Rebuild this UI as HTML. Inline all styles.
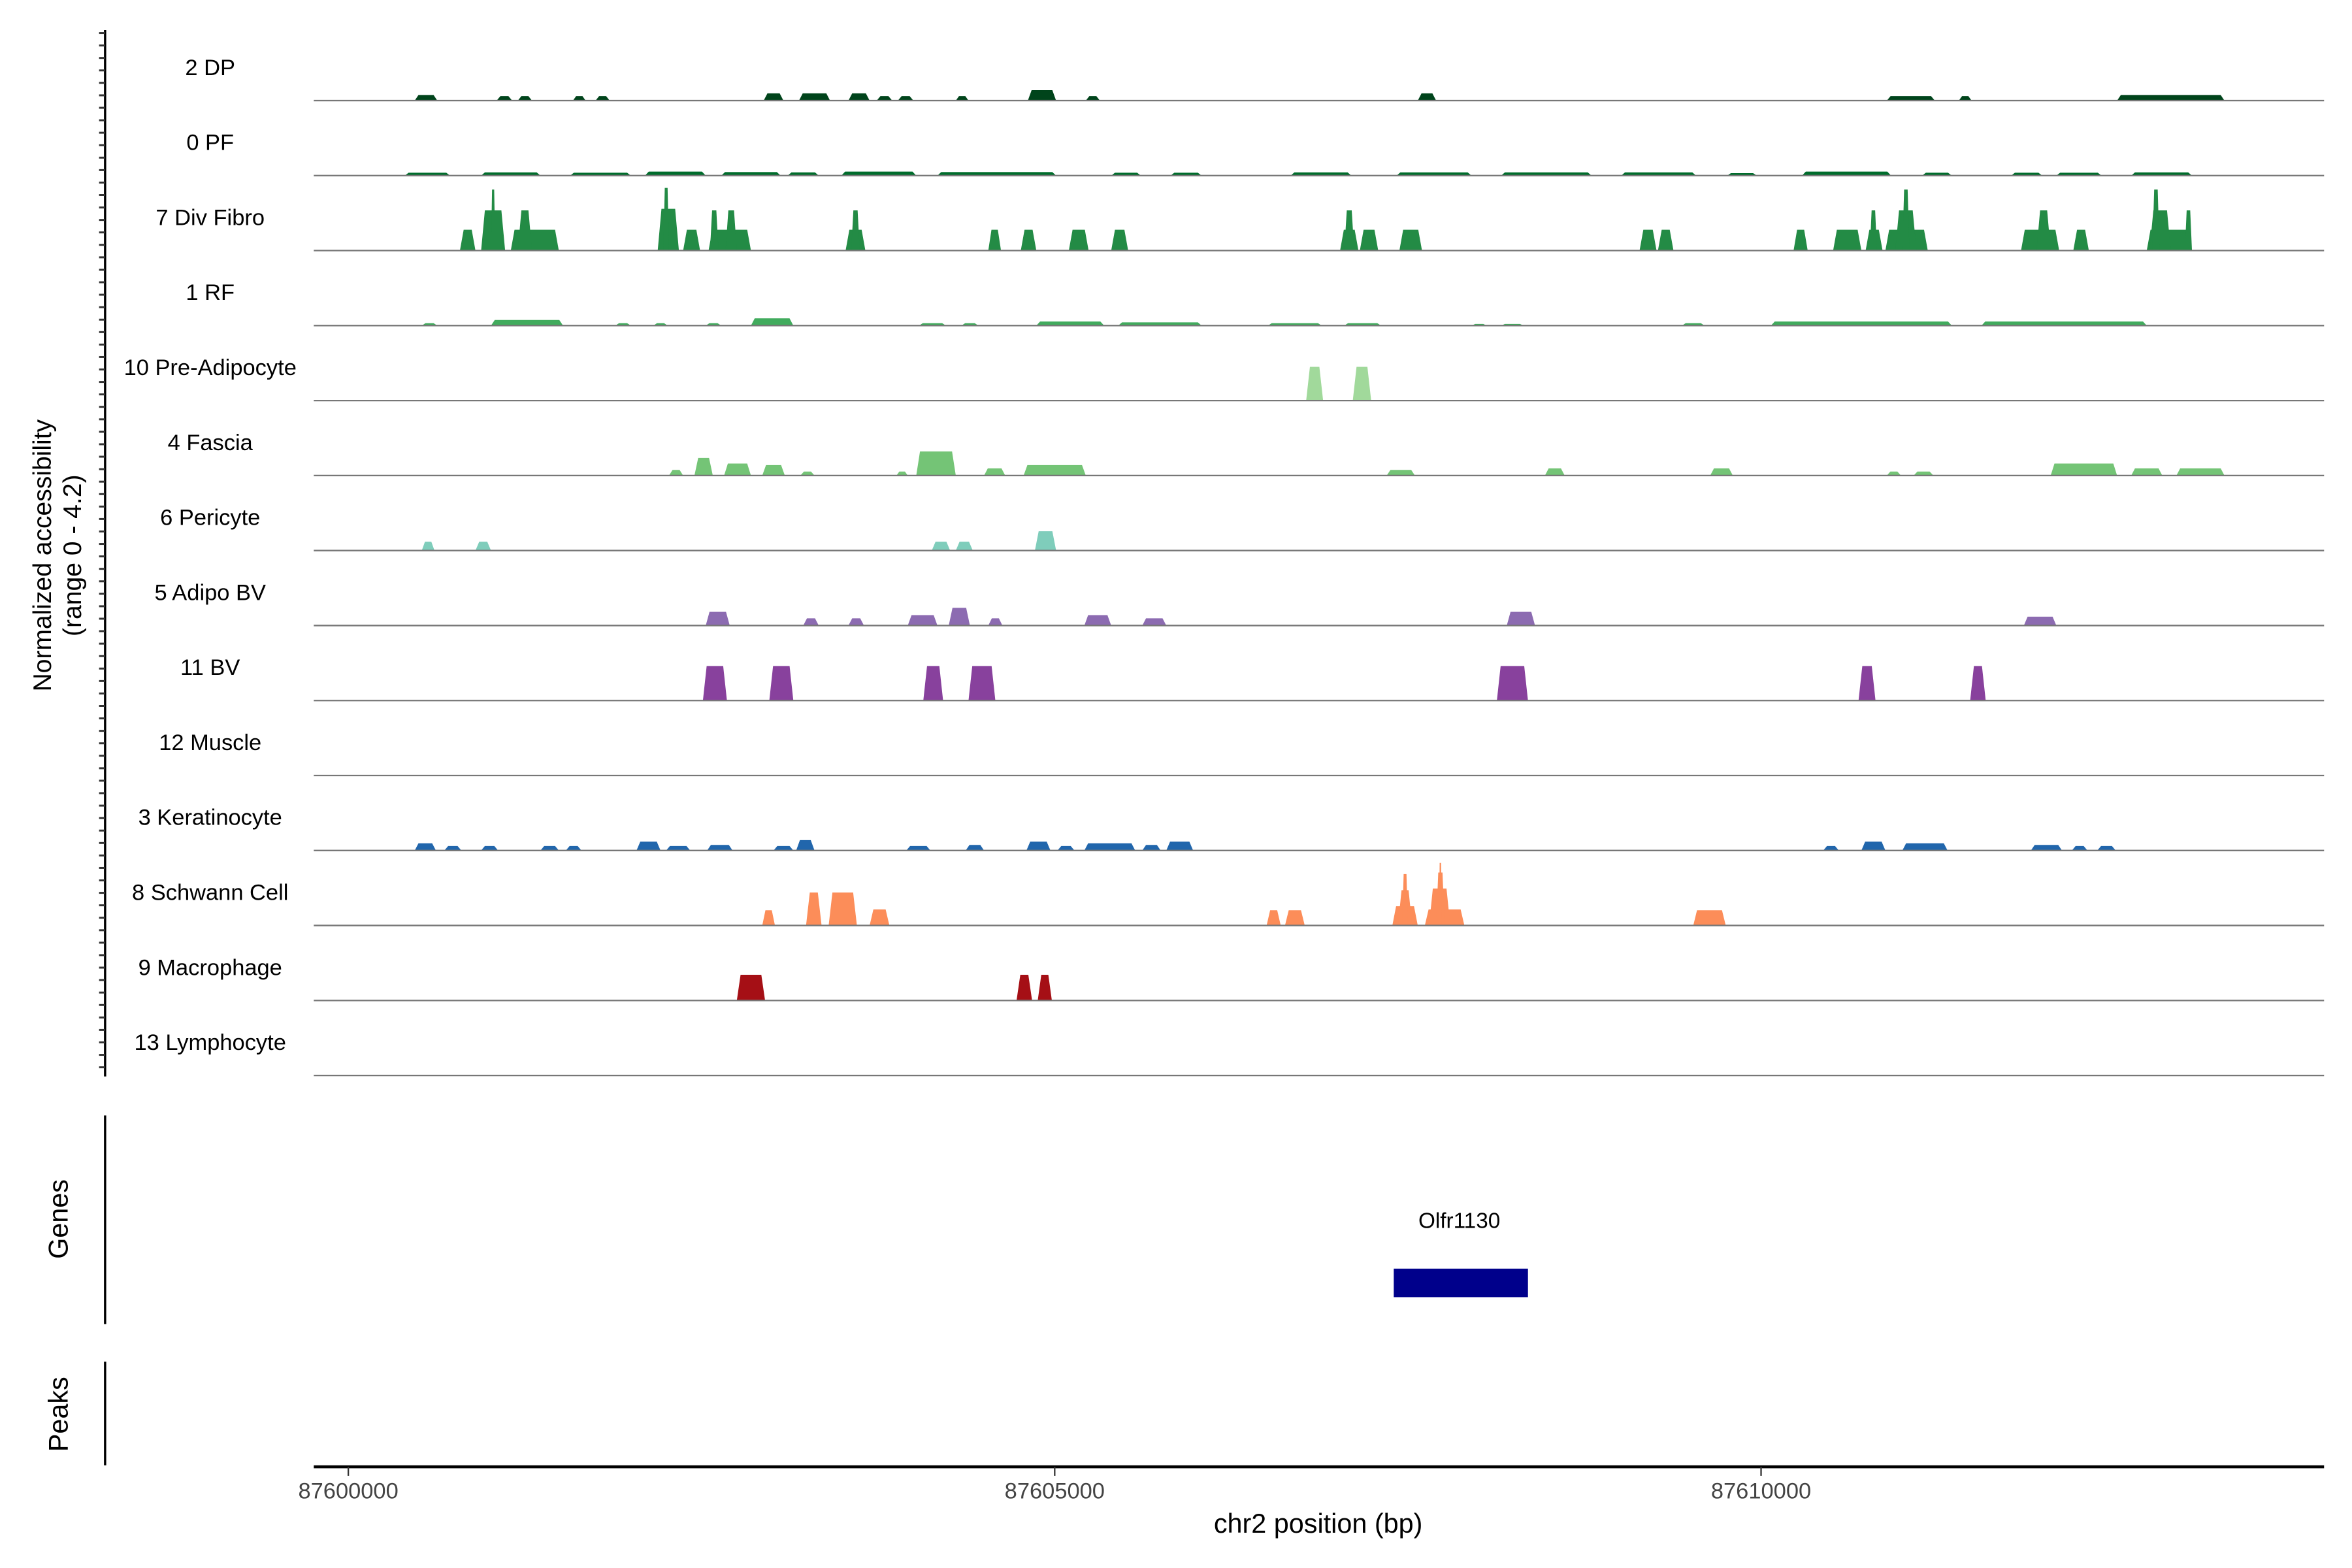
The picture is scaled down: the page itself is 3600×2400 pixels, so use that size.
<!DOCTYPE html>
<html><head><meta charset="utf-8"><style>html,body{margin:0;padding:0;background:#fff}svg{display:block}</style></head>
<body>
<svg id="c" width="3600" height="2400" viewBox="0 0 1566.6 1044.4" preserveAspectRatio="xMinYMin meet" xmlns="http://www.w3.org/2000/svg" font-family="Liberation Sans, sans-serif"></svg>
<script>
// genomic positions in kb relative to chr2:87600000; heights in normalized accessibility
const trackNames = ["2 DP","0 PF","7 Div Fibro","1 RF","10 Pre-Adipocyte","4 Fascia","6 Pericyte","5 Adipo BV","11 BV","12 Muscle","3 Keratinocyte","8 Schwann Cell","9 Macrophage","13 Lymphocyte"];
const trackColors = ["#00441b","#006d2c","#238b45","#41ab5d","#a1d99b","#74c476","#7fcdbb","#8c6bb1","#88419d","#4575b4","#2166ac","#fc8d59","#a50f15","#555555"];
const dp = [[0.47,0.63,0.35],[1.05,1.16,0.28],[1.20,1.30,0.28],[1.59,1.68,0.28],[1.75,1.85,0.28],[2.94,3.08,0.45],[3.19,3.41,0.45],[3.54,3.69,0.45],[3.74,3.85,0.28],[3.89,4.00,0.28],[4.30,4.39,0.28],[4.81,5.01,0.65],[5.22,5.32,0.28],[7.57,7.70,0.45],[10.89,11.23,0.28],[11.40,11.49,0.28],[12.52,13.28,0.35]];
const pf = [[0.40,0.72,0.18],[0.94,1.36,0.2],[1.57,2.00,0.18],[2.10,2.53,0.25],[2.64,3.06,0.22],[3.11,3.33,0.2],[3.49,4.02,0.25],[4.17,5.01,0.22],[5.40,5.61,0.18],[5.82,6.04,0.18],[6.67,7.10,0.2],[7.42,7.95,0.2],[8.16,8.80,0.2],[9.01,9.54,0.2],[9.76,9.97,0.15],[10.29,10.92,0.25],[11.14,11.35,0.18],[11.77,11.99,0.18],[12.09,12.41,0.18],[12.62,13.05,0.2]];
const divFibro = [[0.79,0.90,1.3],[0.94,1.11,2.5],[1.01,1.04,3.8],[1.15,1.49,1.3],[1.20,1.30,2.5],[2.19,2.34,2.6],[2.23,2.27,3.9],[2.37,2.49,1.3],[2.55,2.85,1.3],[2.56,2.62,2.5],[2.67,2.75,2.5],[3.52,3.66,1.3],[3.56,3.62,2.5],[4.53,4.62,1.3],[4.76,4.87,1.3],[5.10,5.24,1.3],[5.40,5.52,1.3],[7.02,7.15,1.3],[7.05,7.12,2.5],[7.16,7.29,1.3],[7.44,7.60,1.3],[9.14,9.26,1.3],[9.27,9.38,1.3],[10.23,10.33,1.3],[10.51,10.71,1.3],[10.74,10.86,1.3],[10.77,10.82,2.5],[10.88,11.18,1.3],[10.95,11.10,2.5],[11.0,11.05,3.8],[11.84,12.11,1.3],[11.95,12.05,2.5],[12.21,12.32,1.3],[12.73,13.05,1.3],[12.75,12.90,2.5],[12.77,12.82,3.8],[13.00,13.05,2.5]];
const rf = [[0.52,0.63,0.15],[1.01,1.52,0.35],[1.89,2.00,0.15],[2.16,2.26,0.15],[2.53,2.64,0.15],[2.85,3.15,0.45],[4.04,4.23,0.15],[4.34,4.46,0.15],[4.87,5.35,0.25],[5.45,6.04,0.2],[6.51,6.89,0.15],[7.05,7.31,0.15],[7.95,8.06,0.1],[8.16,8.32,0.1],[9.44,9.60,0.15],[10.07,11.35,0.25],[11.56,12.73,0.25]];
const preAdipo = [[6.78,6.90,2.1],[7.11,7.24,2.1]];
const fascia = [[2.27,2.37,0.35],[2.45,2.58,1.1],[2.66,2.85,0.75],[2.93,3.09,0.65],[3.20,3.30,0.25],[3.88,3.96,0.25],[4.02,4.30,1.5],[4.50,4.65,0.45],[4.78,5.22,0.65],[7.35,7.55,0.35],[8.47,8.61,0.45],[9.64,9.80,0.45],[10.89,10.99,0.25],[11.08,11.22,0.25],[12.05,12.52,0.75],[12.62,12.84,0.45],[12.94,13.28,0.45]];
const pericyte = [[0.52,0.61,0.55],[0.90,1.01,0.55],[4.13,4.26,0.55],[4.30,4.42,0.55],[4.86,5.01,1.2]];
const adipoBV = [[2.53,2.70,0.85],[3.22,3.33,0.45],[3.54,3.65,0.45],[3.96,4.17,0.65],[4.25,4.40,1.1],[4.53,4.63,0.45],[5.21,5.40,0.65],[5.62,5.79,0.45],[8.20,8.40,0.85],[11.86,12.09,0.55]];
const bv = [[2.51,2.68,2.15],[2.98,3.15,2.15],[4.07,4.21,2.15],[4.39,4.58,2.15],[8.13,8.35,2.15],[10.69,10.81,2.15],[11.48,11.59,2.15]];
const muscle = [];
const kera = [[0.47,0.62,0.45],[0.68,0.80,0.28],[0.94,1.06,0.28],[1.36,1.49,0.28],[1.54,1.65,0.28],[2.04,2.21,0.55],[2.25,2.42,0.28],[2.54,2.72,0.35],[3.01,3.15,0.28],[3.17,3.30,0.65],[3.95,4.12,0.28],[4.37,4.50,0.35],[4.80,4.97,0.55],[5.02,5.14,0.28],[5.21,5.57,0.45],[5.62,5.75,0.35],[5.79,5.98,0.55],[10.44,10.55,0.28],[10.71,10.88,0.55],[11.00,11.32,0.45],[11.91,12.13,0.35],[12.20,12.31,0.28],[12.38,12.51,0.28]];
const schwann = [[2.93,3.02,0.95],[3.24,3.35,2.05],[3.40,3.60,2.05],[3.69,3.83,1.0],[6.50,6.60,0.95],[6.63,6.77,0.95],[7.39,7.57,1.2],[7.43,7.53,2.2],[7.46,7.50,3.2],[7.62,7.90,1.0],[7.65,7.80,2.3],[7.70,7.76,3.3],[7.72,7.74,3.9],[9.52,9.75,0.95]];
const macro = [[2.75,2.95,1.6],[4.73,4.84,1.6],[4.88,4.98,1.6]];
const lympho = [];
const tracks = [dp,pf,divFibro,rf,preAdipo,fascia,pericyte,adipoBV,bv,muscle,kera,schwann,macro,lympho];
const xTicks = [87600000,87605000,87610000];

const NS="http://www.w3.org/2000/svg";
const svg=document.getElementById('c');
function mk(tag,attrs,parent){const e=document.createElementNS(NS,tag);for(const k in attrs)e.setAttribute(k,attrs[k]);(parent||svg).appendChild(e);return e;}
const xs = kb => 232 + kb*94.1;
const base = i => 67 + i*49.95;
const ys = v => v*10.7;

const ax=mk('line',{x1:70,y1:20,x2:70,y2:717,stroke:'#000','stroke-width':1.5});


for(let y=22;y<=717;y+=8.3){const t=mk('line',{x1:66,y1:y,x2:70,y2:y,stroke:'#333','stroke-width':1.3});

}
const yt=mk('text',{x:0,y:0,'font-size':17,'text-anchor':'middle',transform:'translate(34,370) rotate(-90)'});


yt.innerHTML='<tspan x="0" dy="0">Normalized accessibility</tspan><tspan x="0" dy="20">(range 0 - 4.2)</tspan>';

tracks.forEach((pk,i)=>{
  const b=base(i);
  const g=mk('g',{});
  
  
  const lb=mk('text',{x:140,y:b-17,'font-size':15,'text-anchor':'middle'},g);
  
  
  lb.textContent=trackNames[i];
  pk.forEach(p=>{
    const s=xs(p[0]),e=xs(p[1]),h=ys(p[2]),sl=Math.min(2.5,(e-s)/4);
    const poly=mk('polygon',{points:`${s},${b} ${s+sl},${b-h} ${e-sl},${b-h} ${e},${b}`,fill:trackColors[i]},g);
    
    
  });
  const bl=mk('line',{x1:209,y1:b,x2:1548,y2:b,stroke:'#777','stroke-width':1},g);
  
  
});

const ga=mk('line',{x1:70,y1:743,x2:70,y2:882,stroke:'#000','stroke-width':1.5});


const gt=mk('text',{x:0,y:0,'font-size':18,'text-anchor':'middle',transform:'translate(45,812) rotate(-90)'});


gt.textContent='Genes';
const gene=mk('rect',{x:xs(7.40),y:845,width:xs(8.35)-xs(7.40),height:19,fill:'#00008b'});


const gl=mk('text',{x:972,y:818,'font-size':14.5,'text-anchor':'middle'});


gl.textContent='Olfr1130';

const pa=mk('line',{x1:70,y1:907,x2:70,y2:976,stroke:'#000','stroke-width':1.5});


const pt=mk('text',{x:0,y:0,'font-size':18,'text-anchor':'middle',transform:'translate(45,942) rotate(-90)'});


pt.textContent='Peaks';

const xa=mk('line',{x1:209,y1:977,x2:1548,y2:977,stroke:'#000','stroke-width':2});


xTicks.forEach(t=>{
  const x=xs((t-87600000)/1000);
  const tk=mk('line',{x1:x,y1:977,x2:x,y2:983,stroke:'#333','stroke-width':1});
  
  
  const tl=mk('text',{x:x,y:998,'font-size':15,'text-anchor':'middle',fill:'#444'});
  
  
  tl.textContent=t;
});
const xt=mk('text',{x:878,y:1021,'font-size':18,'text-anchor':'middle'});


xt.textContent='chr2 position (bp)';
</script>
</body></html>
